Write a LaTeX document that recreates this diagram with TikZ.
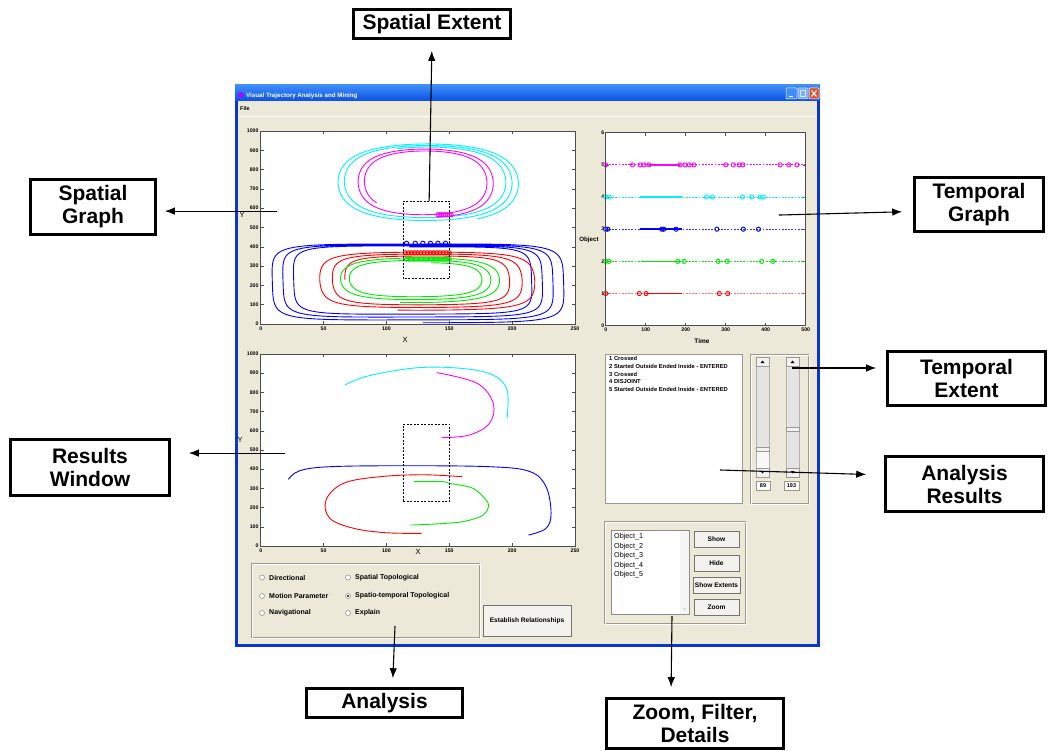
\documentclass[tikz,border=0pt]{standalone}
\usepackage{fontspec}
\setmainfont{Liberation Sans}
\usetikzlibrary{arrows.meta}
\definecolor{winbg}{HTML}{ECE9D8}
\definecolor{xpblue}{HTML}{0A50E6}
\definecolor{xpdark}{HTML}{0935D0}
\definecolor{xplight}{HTML}{3F8EF8}
\definecolor{edge}{HTML}{9D9A8C}
\definecolor{btnface}{HTML}{F3F2EC}
\definecolor{track}{HTML}{E4E4E2}
\definecolor{ocyan}{HTML}{00F0FF}
\definecolor{omag}{HTML}{FF00FF}
\definecolor{oblue}{HTML}{0000FF}
\definecolor{ored}{HTML}{FF0000}
\definecolor{ogreen}{HTML}{00E800}
\definecolor{xclose}{HTML}{E2512E}
\begin{document}
\begin{tikzpicture}[x=1pt,y=-1pt,
  ui/.style={font=\fontsize{7}{8}\selectfont\bfseries, inner sep=0pt},
  btn/.style={draw=black!55, fill=btnface, line width=0.6pt, font=\fontsize{6.6}{7}\selectfont\bfseries, inner sep=0pt},
  tk/.style={font=\fontsize{5.2}{6}\selectfont\bfseries, inner sep=0.8pt},
  axl/.style={font=\fontsize{7.5}{8}\selectfont, inner sep=0pt},
  callout/.style={draw, line width=2.6pt, fill=white, align=center, inner sep=0pt, font=\fontsize{21}{23}\selectfont\bfseries},
  pointer/.style={line width=1.1pt, -{Latex[length=10pt,width=7.5pt]}},
  frm/.style={draw=black!70, line width=0.6pt},
  trk/.style={line width=0.9pt},
  mk/.style={line width=0.9pt},
  dotl/.style={line width=0.8pt, dash pattern=on 1.8pt off 1.4pt},
  seg/.style={line width=1.7pt},
  sunk/.style={draw=edge, line width=0.7pt},
  radio/.style={circle, draw=black!45, fill=white, minimum size=5pt, inner sep=0pt, line width=0.5pt},
  extbox/.style={draw=black, line width=0.8pt, dash pattern=on 2pt off 1.5pt},
]
\useasboundingbox (0,0) rectangle (1049,751);
\fill[white] (0,0) rectangle (1049,751);

% ---------- window ----------
\fill[xpdark] (235,85) rectangle (820,647);
\shade[top color=xplight, bottom color=xpblue] (235,85) rectangle (820,101);
\fill[winbg] (238,101) rectangle (817,644);
\draw[white, line width=0.8pt] (238,116) -- (817,116);
\fill[omag!70!blue] (241,95) circle (2.8pt);
\node[anchor=west, text=white, font=\fontsize{6.2}{7}\selectfont\bfseries, inner sep=0pt] (title) at (246,95.5) {Visual Trajectory Analysis and Mining};
\node[anchor=west, font=\fontsize{5.5}{6}\selectfont\bfseries, inner sep=0pt] (menu) at (240,109) {File};
\draw[white, line width=0.5pt, fill=xplight, rounded corners=1pt] (786,88) rectangle (797,99);
\draw[white, line width=1pt] (788.5,96.5) -- (792.5,96.5);
\draw[white!70!xplight, line width=0.5pt, fill=xplight!70!white, rounded corners=1pt] (798,88) rectangle (808,99);
\draw[white!80!xplight, line width=0.5pt] (800.5,90.5) rectangle (805.5,96.5);
\draw[white, line width=0.5pt, fill=xclose, rounded corners=1pt] (809,88) rectangle (819,99);
\draw[white, line width=1.1pt] (811.5,90.5) -- (816.5,96.5) (816.5,90.5) -- (811.5,96.5);

% ---------- spatial graph ----------
\begin{scope}[shift={(260.7pt,-324pt)}, x=1.257pt, y=0.193pt]
  \fill[white] (0,0) rectangle (250,1000);
  \foreach \v in {0,50,...,250} {
    \draw[black!70, line width=0.5pt] (\v,0) -- ++(0pt,3pt) (\v,1000) -- ++(0pt,-3pt);
    \node[tk, anchor=north] (pax\v) at (\v,-8) {\v};
  }
  \foreach \v in {0,100,...,1000} {
    \draw[black!70, line width=0.5pt] (0,\v) -- ++(3pt,0pt) (250,\v) -- ++(-3pt,0pt);
    \node[tk, anchor=east] (pay\v) at (-1,\v) {\v};
  }
  \draw[oblue,trk] plot[domain=-88:1172, samples=421, variable=\t]
    ({123+(118-8.5*\t/360)*(cos(\t)-0.11*cos(3*\t))/0.89},
     {213+5*\t/360+(203-10*\t/360)*(sin(\t)+0.11*sin(3*\t))/0.89});
  \draw[ored,trk] plot[domain=-100:900, samples=334, variable=\t]
    ({130+(88-10*\t/360)*(cos(\t)-0.08*cos(3*\t))/0.92},
     {225+2*\t/360+(150-12*\t/360)*(sin(\t)+0.08*sin(3*\t))/0.92});
  \draw[ogreen,trk] plot[domain=-100:800, samples=301, variable=\t]
    ({125+(65-7*\t/360)*(cos(\t)-0.05*cos(3*\t))/0.95},
     {230+1.5*\t/360+(115-13.5*\t/360)*(sin(\t)+0.05*sin(3*\t))/0.95});
  \draw[ocyan,trk] plot[domain=-60:830, samples=298, variable=\t]
    ({132+(73-5*\t/360)*(cos(\t)-0.03*cos(3*\t))/0.97},
     {730+3.5*\t/360+(205-11.5*\t/360)*(sin(\t)+0.03*sin(3*\t))/0.97});
  \draw[omag,trk] plot[domain=-80:580, samples=221, variable=\t]
    ({130+(55-5*\t/360)*(cos(\t)-0.03*cos(3*\t))/0.97},
     {732+2.5*\t/360+(177-12.5*\t/360)*(sin(\t)+0.03*sin(3*\t))/0.97});
  \foreach \x in {116,123,129,135,141,147} \draw[oblue,mk] (\x,418) circle (2.2pt);
  \foreach \x in {115,117.5,...,150} \draw[ored,mk] (\x,369) circle (2.1pt);
  \foreach \x in {116,118,...,150} \draw[ogreen,mk] (\x,336) circle (2.1pt);
  \foreach \x in {141,142.5,...,152} \draw[omag,mk] (\x,566) circle (2.1pt);
  \draw[extbox] (113.5,234) rectangle (150.5,637);
  \draw[frm] (0,0) rectangle (250,1000);
  \coordinate (exttop) at (134,637);
  \coordinate (sgstart) at (13,585);
\end{scope}
\node[axl] (p1X) at (405,340) {X};
\node[axl] (p1Y) at (242,215) {Y};

% ---------- results window ----------
\begin{scope}[shift={(260.7pt,-546pt)}, x=1.257pt, y=0.192pt]
  \fill[white] (0,0) rectangle (250,1000);
  \foreach \v in {0,50,...,250} {
    \draw[black!70, line width=0.5pt] (\v,0) -- ++(0pt,3pt) (\v,1000) -- ++(0pt,-3pt);
    \node[tk, anchor=north] (qax\v) at (\v,-8) {\v};
  }
  \foreach \v in {0,100,...,1000} {
    \draw[black!70, line width=0.5pt] (0,\v) -- ++(3pt,0pt) (250,\v) -- ++(-3pt,0pt);
    \node[tk, anchor=east] (qay\v) at (-1,\v) {\v};
  }
  \draw[ocyan,trk] plot[smooth, tension=0.6] coordinates {(67,838) (85,885) (124,928) (160,925) (185,890) (196,812) (196,665)};
  \draw[omag,trk] plot[smooth, tension=0.6] coordinates {(140,903) (172,848) (185,743) (182,639) (166,578) (144,564)};
  \draw[oblue,trk] plot[smooth, tension=0.6] coordinates {(22,347) (31,392) (55,413) (113,418) (182,413) (214,388) (227,309) (231,170) (227,92) (213,57)};
  \draw[ored,trk] plot[smooth, tension=0.6] coordinates {(160,361) (129,371) (95,361) (66,327) (52,240) (55,144) (74,92) (100,69) (128,66)};
  \draw[ogreen,trk] plot[smooth, tension=0.5] coordinates {(122,335) (145,335) (151,325) (169,300) (181,222) (177,161) (161,127) (140,115) (119,109)};
  \draw[extbox] (113.5,234) rectangle (150.5,635);
  \draw[frm] (0,0) rectangle (250,1000);
  \coordinate (rwstart) at (19.3,484);
\end{scope}
\node[axl] (p2X) at (418,552) {X};
\node[axl] (p2Y) at (240,440) {Y};

% ---------- temporal graph ----------
\begin{scope}[shift={(605.7pt,-325.7pt)}, x=0.4pt, y=32.17pt]
  \fill[white] (0,0) rectangle (500,6);
  \foreach \v in {0,100,...,500} {
    \draw[black!70, line width=0.5pt] (\v,0) -- ++(0pt,3pt) (\v,6) -- ++(0pt,-3pt);
    \node[tk, anchor=north] (tax\v) at (\v,-0.05) {\v};
  }
  \foreach \v in {0,...,6} {
    \draw[black!70, line width=0.5pt] (0,\v) -- ++(3pt,0pt) (500,\v) -- ++(-3pt,0pt);
    \node[tk, anchor=east] (tay\v) at (-1,\v) {\v};
  }
  % object 5
  \draw[omag,dotl] (0,5) -- (500,5);
  \draw[omag,seg] (108,5) -- (186,5);
  \foreach \x in {0,67,86,96,108,186,198,209,221,300,319,334,343,436,458,478} \draw[omag,mk] (\x,5) circle (2.1pt);
  % object 4
  \draw[ocyan,dotl] (0,4) -- (500,4);
  \draw[ocyan,seg] (86,4) -- (190,4);
  \foreach \x in {0,9,252,267,342,365,386,394} \draw[ocyan,mk] (\x,4) circle (2.1pt);
  % object 3
  \draw[oblue!80,dotl] (0,3) -- (500,3);
  \draw[oblue,seg] (86,3) -- (190,3);
  \foreach \x in {0,5,140,145,176,278,344,382} \draw[oblue,mk] (\x,3) circle (2.1pt);
  % object 2
  \draw[ogreen,dotl] (0,2) -- (500,2);
  \draw[ogreen,seg] (88,2) -- (182,2);
  \foreach \x in {0,8,180,196,281,304,390,418} \draw[ogreen,mk] (\x,2) circle (2.1pt);
  % object 1
  \draw[ored!60,dotl] (0,1) -- (500,1);
  \draw[ored,seg] (101,1) -- (190,1);
  \foreach \x in {0,84,101,284,305} \draw[ored,mk] (\x,1) circle (2.1pt);
  \draw[frm] (0,0) rectangle (500,6);
  \coordinate (tgstart) at (433,3.44);
\end{scope}
\node[font=\fontsize{6.2}{7}\selectfont\bfseries, inner sep=0pt] (tObj) at (589,240) {Object};
\node[font=\fontsize{6.5}{7}\selectfont\bfseries, inner sep=0pt] (tTime) at (702,341) {Time};

% ---------- analysis results text ----------
\draw[sunk, fill=white] (605,354) rectangle (742,503);
\node[anchor=north west, align=left, inner sep=0pt, font=\fontsize{5.8}{7.6}\selectfont\bfseries] (restext) at (609,356.5)
  {1 Crossed\\2 Started Outside Ended Inside - ENTERED\\3 Crossed\\4 DISJOINT\\5 Started Outside Ended Inside - ENTERED};
\coordinate (arstart) at (720,470);

% ---------- temporal extent sliders ----------
\draw[sunk] (750,354) rectangle (808,503);
\draw[white, line width=0.5pt] (751,355) rectangle (809,504);
\foreach \sx/\th in {756/447, 786/427} {
  \draw[black!30, fill=track, line width=0.4pt] (\sx,357) rectangle ++(13,120);
  \draw[black!40, fill=btnface, line width=0.4pt] (\sx,357) rectangle ++(13,9);
  \draw[black!40, fill=btnface, line width=0.4pt] (\sx,468) rectangle ++(13,9);
  \fill[black] (\sx+4.5,363) -- (\sx+8.5,363) -- (\sx+6.5,360.5) -- cycle;
  \fill[black] (\sx+4.5,471) -- (\sx+8.5,471) -- (\sx+6.5,473.5) -- cycle;
  \draw[black!40, fill=btnface, line width=0.4pt] (\sx,\th) rectangle ++(13,4);
}
\fill[track!80!black!10!white] (757,451.5) rectangle (768.5,467.5);
\node[draw=edge, fill=white, minimum width=14pt, minimum height=9pt, inner sep=0pt, font=\fontsize{5.5}{6}\selectfont\bfseries] (v89) at (763,485.5) {89};
\node[draw=edge, fill=white, minimum width=15pt, minimum height=9pt, inner sep=0pt, font=\fontsize{5.5}{6}\selectfont\bfseries] (v193) at (791.5,485.5) {193};
\coordinate (testart) at (792,368);

% ---------- analysis radio panel ----------
\draw[sunk] (251,563) rectangle (479,637);
\draw[white, line width=0.5pt] (252,564) rectangle (480,638);
\node[radio] (r1) at (262,577.5) {};
\node[radio] (r2) at (262,596) {};
\node[radio] (r3) at (262,613) {};
\node[radio] (r4) at (348,577.5) {};
\node[radio] (r5) at (348,596) {};
\node[radio] (r6) at (348,613) {};
\fill[black] (r5.center) circle (1.1pt);
\node[ui, anchor=west] (l1) at (269,577.5) {Directional};
\node[ui, anchor=west] (l2) at (269,596) {Motion Parameter};
\node[ui, anchor=west] (l3) at (269,613) {Navigational};
\node[ui, anchor=west] (l4) at (355,577.5) {Spatial Topological};
\node[ui, anchor=west] (l5) at (355,596) {Spatio-temporal Topological};
\node[ui, anchor=west] (l6) at (355,613) {Explain};
\node[btn, minimum width=88pt, minimum height=31pt] (estab) at (527,620.5) {Establish Relationships};
\coordinate (anstart) at (395,626);

% ---------- object list panel ----------
\draw[sunk] (604,521) rectangle (745,623);
\draw[white, line width=0.5pt] (605,522) rectangle (746,624);
\draw[black!45, fill=white, line width=0.6pt] (611,530) rectangle (689,614);
\fill[black!4] (680,531) rectangle (688.5,613.5);
\draw[black!25, line width=0.4pt] (683,608) -- (684.5,610) -- (686,608);
\node[anchor=north west, align=left, inner sep=0pt, font=\fontsize{7.2}{9.5}\selectfont] (objlist) at (614,533.5)
  {Object\_1\\Object\_2\\Object\_3\\Object\_4\\Object\_5};
\node[btn, minimum width=45pt, minimum height=16pt] (bshow) at (716.5,539) {Show};
\node[btn, minimum width=45pt, minimum height=16pt] (bhide) at (716.5,563) {Hide};
\node[btn, minimum width=47pt, minimum height=16pt] (bext) at (716.5,585) {Show Extents};
\node[btn, minimum width=45pt, minimum height=16pt] (bzoom) at (716.5,607) {Zoom};
\coordinate (zfstart) at (672,616);

% ---------- callout labels ----------
\node[callout, minimum width=157pt, minimum height=29pt] (lSE) at (432,24) {Spatial Extent};
\node[callout, minimum width=125pt, minimum height=55pt] (lSG) at (93,207) {Spatial\\Graph};
\node[callout, minimum width=159pt, minimum height=56pt] (lRW) at (90,467.5) {Results\\Window};
\node[callout, minimum width=129pt, minimum height=54pt] (lTG) at (979,204.5) {Temporal\\Graph};
\node[callout, minimum width=158pt, minimum height=54pt] (lTE) at (966.5,378.5) {Temporal\\Extent};
\node[callout, minimum width=158pt, minimum height=55pt] (lAR) at (964.5,484) {Analysis\\Results};
\node[callout, minimum width=156pt, minimum height=29pt] (lAN) at (384.5,703) {Analysis};
\node[callout, minimum width=177pt, minimum height=50pt] (lZF) at (695,723.5) {Zoom, Filter,\\Details};

% ---------- pointers ----------
\draw[pointer, shorten >=11pt] (exttop) -- (lSE.south);
\draw[pointer, shorten >=8pt] (sgstart) -- (sgstart -| lSG.east);
\draw[pointer, shorten >=18pt] (rwstart) -- (rwstart -| lRW.east);
\draw[pointer, shorten >=11pt] (tgstart) -- ([yshift=-7pt]lTG.west);
\draw[pointer, shorten >=10pt] (testart) -- (testart -| lTE.west);
\draw[pointer, shorten >=18pt] (arstart) -- ([yshift=9pt]lAR.west);
\draw[pointer, shorten >=9pt] (anstart) -- ([xshift=8pt]lAN.north);
\draw[pointer, shorten >=10pt] (zfstart) -- ([xshift=-24pt]lZF.north);
\end{tikzpicture}
\end{document}
